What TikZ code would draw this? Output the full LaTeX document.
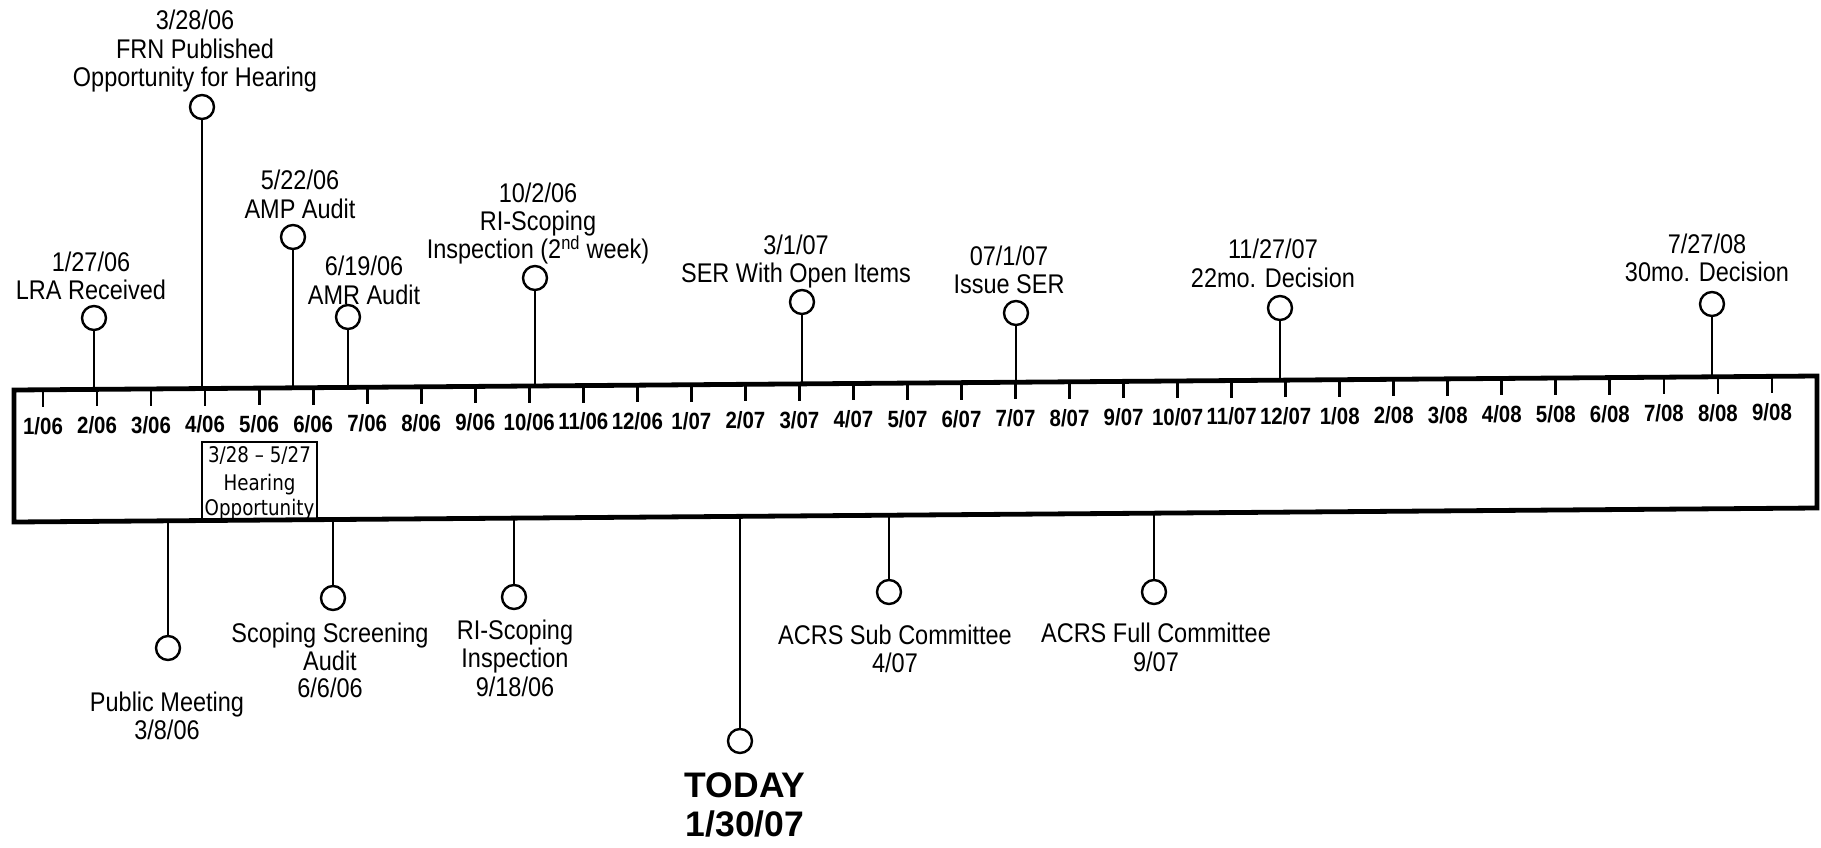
\documentclass[tikz,border=0pt]{standalone}
\usepackage{fontspec}
\setmainfont{Liberation Sans}[FakeStretch=0.87]
\newfontfamily\wideSans{Liberation Sans}
\newfontfamily\hearFont{DejaVu Sans}[FakeStretch=0.85]
\begin{document}
\begin{tikzpicture}[x=1pt,y=-1pt,
  declare function={btop(\t)=390-0.00776*(\t-14); bbot(\t)=522-0.00776*(\t-14);},
  evtext/.style={font=\fontsize{27}{28}\selectfont, inner sep=0pt, text height=19.3pt, text depth=0pt},
  ticklab/.style={font=\bfseries\fontsize{23.5}{24}\selectfont, inner sep=0pt, text height=16.8pt, text depth=0pt},
  todaytext/.style={font=\wideSans\bfseries\fontsize{35.5}{40}\selectfont, inner sep=0pt, text height=25.4pt, text depth=0pt},
  heartext/.style={font=\hearFont\fontsize{21.5}{24}\selectfont, inner sep=0pt, text height=15.6pt, text depth=0pt},
  evdot/.style={circle, draw, line width=2.4pt, minimum size=24pt, inner sep=0pt},
  stem/.style={line width=2.8pt},
  tickmark/.style={line width=2.8pt}]
\useasboundingbox (0,0) rectangle (1821,847);

% main time bar
\coordinate (bTL) at (14,{btop(14)});
\coordinate (bTR) at (1817,{btop(1817)});
\coordinate (bBR) at (1817,{bbot(1817)});
\coordinate (bBL) at (14,{bbot(14)});
\draw[line width=4.8pt, line join=miter] (bTL) -- (bTR) -- (bBR) -- (bBL) -- cycle;

% month ticks and labels
\foreach \i in {0,...,32}{
  \pgfmathsetmacro\tx{43+54.03*\i}
  \pgfmathsetmacro\ty{btop(\tx)}
  \pgfmathtruncatemacro\mm{mod(\i,12)+1}
  \pgfmathtruncatemacro\yy{6+div(\i,12)}
  \coordinate (tk\i) at (\tx,\ty);
  \coordinate (tkb\i) at (\tx,\ty+17);
  \draw[tickmark] (tk\i) -- (tkb\i);
  \node[ticklab] (ml\i) at (\tx,\ty+36) {\mm/0\yy};
}

% hearing opportunity box
\coordinate (hBL) at (202,{bbot(202)});
\coordinate (hTL) at (202,442);
\coordinate (hTR) at (317,442);
\coordinate (hBR) at (317,{bbot(317)});
\draw[line width=1.8pt] (hBL) -- (hTL) -- (hTR) -- (hBR);
\node[heartext] (h1) at (259.5,455) {3/28 – 5/27};
\node[heartext] (h2) at (259.5,482.5) {Hearing};
\node[heartext] (h3) at (259.5,507.5) {Opportunity};

% ---------- events above ----------
\node[evdot] (lra) at (94,318) {};
\coordinate (lraT) at (94,{btop(94)});
\draw[stem] (lra) -- (lraT);
\node[evtext] (lraA) at (91,262) {1/27/06};
\node[evtext] (lraB) at (91,290) {LRA Received};

\node[evdot] (frn) at (202,107) {};
\coordinate (frnT) at (202,{btop(202)});
\draw[stem] (frn) -- (frnT);
\node[evtext] (frnA) at (195,20) {3/28/06};
\node[evtext] (frnB) at (195,48.5) {FRN Published};
\node[evtext] (frnC) at (195,77) {Opportunity for Hearing};

\node[evdot] (amp) at (293,237) {};
\coordinate (ampT) at (293,{btop(293)});
\draw[stem] (amp) -- (ampT);
\node[evtext] (ampA) at (300,180) {5/22/06};
\node[evtext] (ampB) at (300,208.5) {AMP Audit};

\node[evdot] (amr) at (348,317) {};
\coordinate (amrT) at (348,{btop(348)});
\draw[stem] (amr) -- (amrT);
\node[evtext] (amrA) at (364,266) {6/19/06};
\node[evtext] (amrB) at (364,294.5) {AMR Audit};

\node[evdot] (ris) at (535,278) {};
\coordinate (risT) at (535,{btop(535)});
\draw[stem] (ris) -- (risT);
\node[evtext] (risA) at (538,192.5) {10/2/06};
\node[evtext] (risB) at (538,220.5) {RI-Scoping};
\node[evtext] (risC) at (538,249) {Inspection (2\textsuperscript{nd} week)};

\node[evdot] (ser) at (802,302) {};
\coordinate (serT) at (802,{btop(802)});
\draw[stem] (ser) -- (serT);
\node[evtext] (serA) at (796,244.5) {3/1/07};
\node[evtext] (serB) at (796,273) {SER With Open Items};

\node[evdot] (iss) at (1016,313) {};
\coordinate (issT) at (1016,{btop(1016)});
\draw[stem] (iss) -- (issT);
\node[evtext] (issA) at (1009,255.5) {07/1/07};
\node[evtext] (issB) at (1009,284) {Issue SER};

\node[evdot] (dtt) at (1280,308) {};
\coordinate (dttT) at (1280,{btop(1280)});
\draw[stem] (dtt) -- (dttT);
\node[evtext] (dttA) at (1273,248.5) {11/27/07};
\node[evtext] (dttB) at (1273,278) {22mo. Decision};

\node[evdot] (dth) at (1712,304) {};
\coordinate (dthT) at (1712,{btop(1712)});
\draw[stem] (dth) -- (dthT);
\node[evtext] (dthA) at (1707,243.5) {7/27/08};
\node[evtext] (dthB) at (1707,272) {30mo. Decision};

% ---------- events below ----------
\node[evdot] (pub) at (168,648) {};
\coordinate (pubT) at (168,{bbot(168)});
\draw[stem] (pubT) -- (pub);
\node[evtext] (pubA) at (167,702) {Public Meeting};
\node[evtext] (pubB) at (167,730) {3/8/06};

\node[evdot] (scs) at (333,598) {};
\coordinate (scsT) at (333,{bbot(333)});
\draw[stem] (scsT) -- (scs);
\node[evtext] (scsA) at (330,633) {Scoping Screening};
\node[evtext] (scsB) at (330,660.5) {Audit};
\node[evtext] (scsC) at (330,688) {6/6/06};

\node[evdot] (rib) at (514,597) {};
\coordinate (ribT) at (514,{bbot(514)});
\draw[stem] (ribT) -- (rib);
\node[evtext] (ribA) at (515,630) {RI-Scoping};
\node[evtext] (ribB) at (515,658) {Inspection};
\node[evtext] (ribC) at (515,686.5) {9/18/06};

\node[evdot] (tod) at (740,741) {};
\coordinate (todT) at (740,{bbot(740)});
\draw[stem] (todT) -- (tod);
\node[todaytext] (todA) at (745,785) {TODAY};
\node[todaytext] (todB) at (745,823.5) {1/30/07};

\node[evdot] (acs) at (889,592) {};
\coordinate (acsT) at (889,{bbot(889)});
\draw[stem] (acsT) -- (acs);
\node[evtext] (acsA) at (895,634.5) {ACRS Sub Committee};
\node[evtext] (acsB) at (895,663) {4/07};

\node[evdot] (acf) at (1154,592) {};
\coordinate (acfT) at (1154,{bbot(1154)});
\draw[stem] (acfT) -- (acf);
\node[evtext] (acfA) at (1156,632.5) {ACRS Full Committee};
\node[evtext] (acfB) at (1156,661.5) {9/07};
\end{tikzpicture}
\end{document}
